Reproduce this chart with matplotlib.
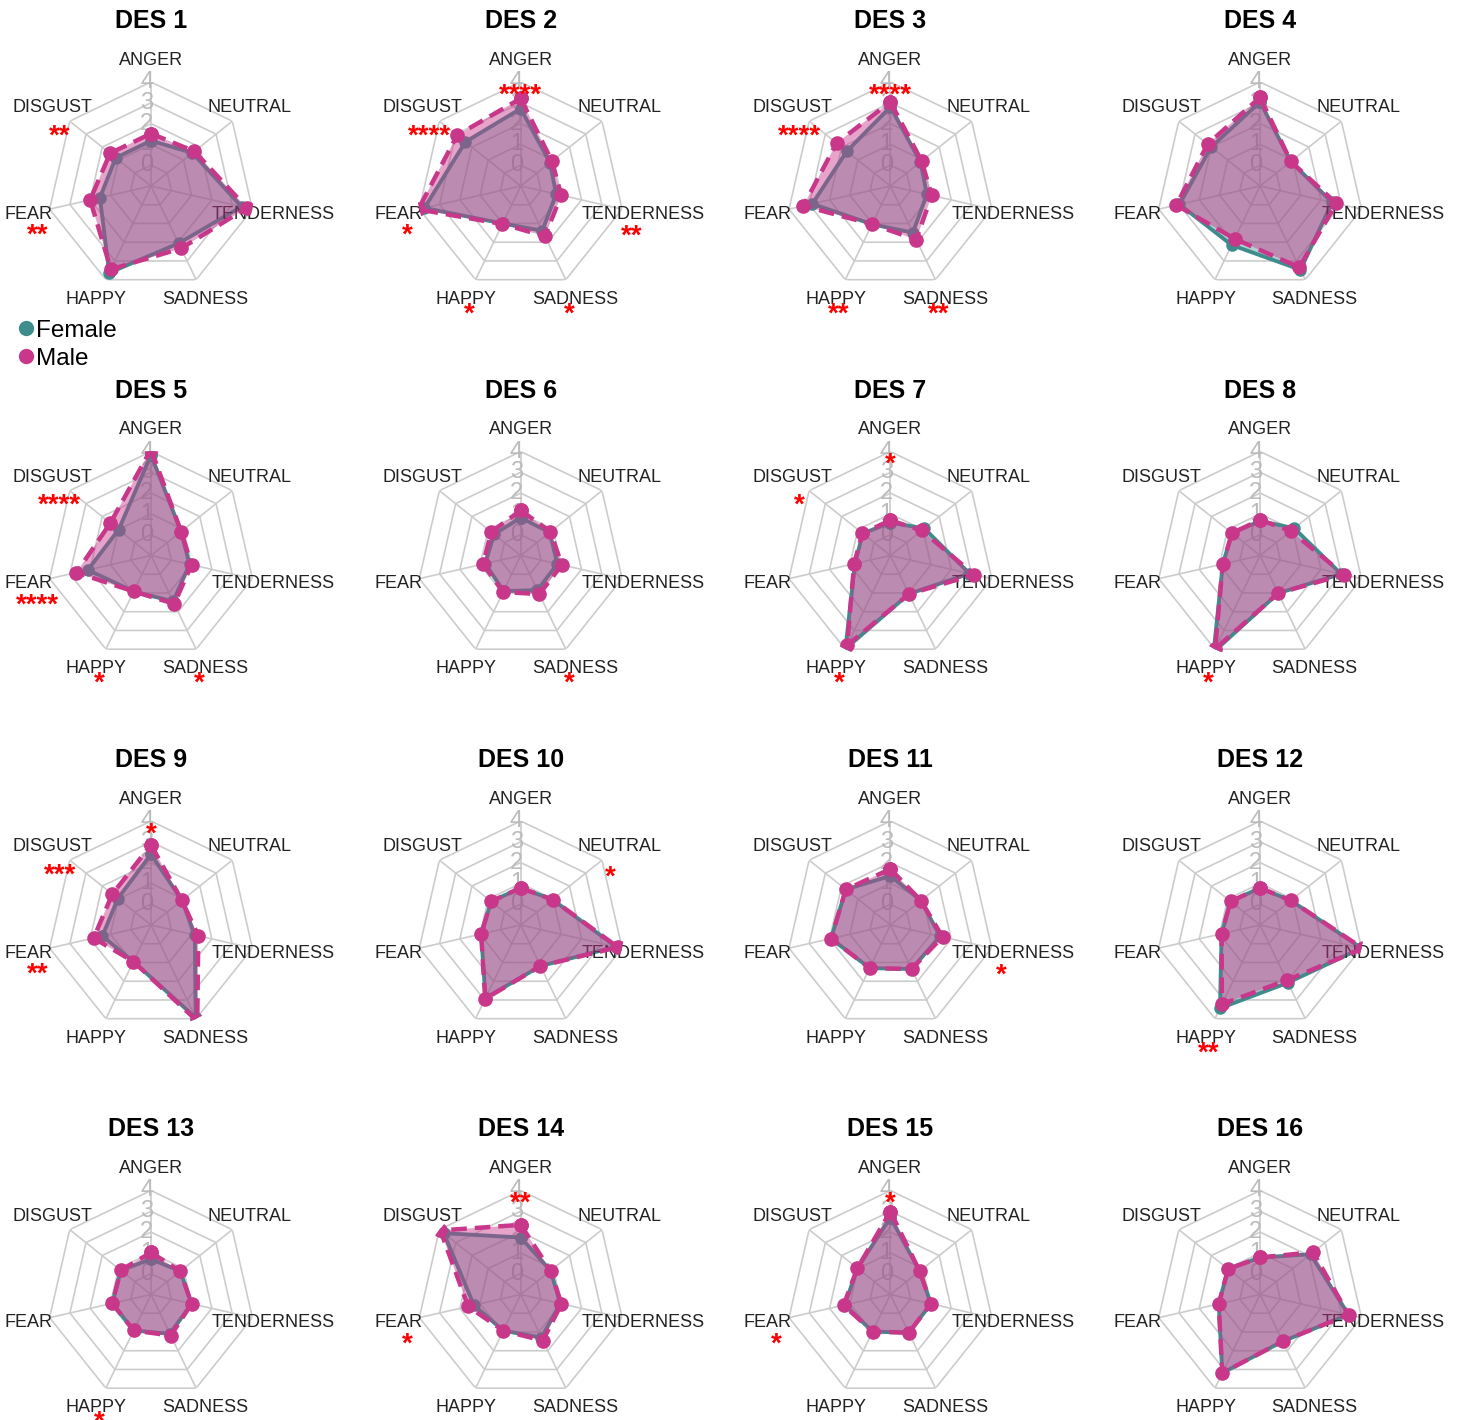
import numpy as np
import matplotlib.pyplot as plt
from matplotlib.lines import Line2D

plt.rcParams['font.family'] = ['Liberation Sans', 'DejaVu Sans']

emotions = ["ANGER", "NEUTRAL", "TENDERNESS", "SADNESS", "HAPPY", "FEAR", "DISGUST"]
titles = ["DES %d" % i for i in range(1, 17)]

# mean ratings, order as in emotions
female = [
    [1.18, 1.55, 3.47, 2.06, 3.63, 1.52, 1.17],   # DES 1
    [2.72, 0.80, 0.75, 1.39, 1.00, 3.75, 2.40],   # DES 2
    [2.80, 0.85, 0.80, 1.49, 1.04, 2.85, 1.68],   # DES 3
    [3.04, 0.89, 2.55, 3.47, 2.15, 2.98, 2.01],   # DES 4
    [3.83, 0.85, 0.90, 1.45, 0.92, 2.12, 0.99],   # DES 5
    [0.82, 0.78, 0.81, 0.85, 0.90, 0.75, 0.64],   # DES 6
    [0.58, 1.09, 2.90, 1.05, 3.98, 0.75, 0.70],   # DES 7
    [0.66, 1.10, 3.00, 1.01, 4.15, 0.84, 0.73],   # DES 8
    [2.40, 0.90, 1.16, 3.95, 0.95, 1.40, 1.04],   # DES 9
    [0.78, 0.96, 3.70, 1.19, 2.90, 0.95, 0.82],   # DES 10
    [1.36, 0.88, 1.45, 1.35, 1.30, 1.93, 1.74],   # DES 11
    [0.78, 0.89, 4.00, 2.08, 3.44, 0.90, 0.82],   # DES 12
    [0.70, 0.80, 1.00, 1.10, 0.92, 0.91, 0.86],   # DES 13
    [1.74, 0.84, 0.95, 1.30, 0.93, 1.31, 3.73],   # DES 14
    [2.70, 0.80, 1.00, 1.04, 0.98, 1.25, 1.03],   # DES 15
    [0.78, 2.10, 3.36, 1.50, 3.19, 1.04, 0.97],   # DES 16
]
male = [
    [1.52, 1.67, 3.73, 2.33, 3.45, 2.00, 1.52],   # DES 1
    [3.21, 0.92, 1.00, 1.68, 1.03, 4.05, 2.91],   # DES 2
    [3.04, 0.92, 1.04, 1.86, 1.04, 3.29, 2.31],   # DES 3
    [3.26, 0.89, 2.76, 3.34, 1.82, 3.13, 2.23],   # DES 4
    [4.10, 0.85, 1.00, 1.58, 0.92, 2.68, 1.50],   # DES 5
    [1.17, 0.83, 1.03, 1.06, 0.95, 0.86, 0.81],   # DES 6
    [0.69, 0.93, 3.13, 1.06, 3.79, 0.79, 0.72],   # DES 7
    [0.71, 0.89, 3.14, 1.01, 3.98, 0.84, 0.73],   # DES 8
    [2.85, 0.90, 1.33, 4.13, 0.95, 1.83, 1.38],   # DES 9
    [0.78, 0.96, 3.79, 1.19, 2.94, 0.95, 0.82],   # DES 10
    [1.69, 0.88, 1.57, 1.35, 1.30, 1.93, 1.74],   # DES 11
    [0.78, 0.89, 4.07, 1.95, 3.23, 0.90, 0.82],   # DES 12
    [1.02, 0.80, 1.00, 1.19, 0.92, 0.91, 0.86],   # DES 13
    [2.35, 0.84, 1.01, 1.46, 0.93, 1.59, 3.94],   # DES 14
    [2.99, 0.80, 1.00, 1.04, 0.98, 1.31, 1.03],   # DES 15
    [0.78, 2.26, 3.36, 1.50, 3.19, 1.04, 0.97],   # DES 16
]
# significance marks per panel
stars = [
    {"DISGUST": "**", "FEAR": "**"},
    {"ANGER": "****", "DISGUST": "****", "FEAR": "*", "TENDERNESS": "**", "HAPPY": "*", "SADNESS": "*"},
    {"ANGER": "****", "DISGUST": "****", "HAPPY": "**", "SADNESS": "**"},
    {},
    {"DISGUST": "****", "FEAR": "****", "HAPPY": "*", "SADNESS": "*"},
    {"SADNESS": "*"},
    {"ANGER": "*", "DISGUST": "*", "HAPPY": "*"},
    {"HAPPY": "*"},
    {"ANGER": "*", "DISGUST": "***", "FEAR": "**"},
    {"NEUTRAL": "*"},
    {"TENDERNESS": "*"},
    {"HAPPY": "**"},
    {"HAPPY": "*"},
    {"ANGER": "**", "FEAR": "*"},
    {"ANGER": "*", "FEAR": "*"},
    {},
]

teal = "#3f8c8c"
pink = "#c8378a"
grid_c = "#cccccc"

# star offsets from the label (pixels, y down)
star_off = {"ANGER": (0, 34), "NEUTRAL": (-9, 30), "TENDERNESS": (-12, 22), "SADNESS": (-6, 14),
            "HAPPY": (3, 14), "FEAR": (9, 21), "DISGUST": (7, 28)}

W, H = 1460, 1420
R = 104
fig = plt.figure(figsize=(W / 100, H / 100), dpi=100)

theta = np.arange(7) * 2 * np.pi / 7
tclosed = np.append(theta, theta[0])
r_lab = -1 + 5 * 1.21

for k in range(16):
    i, j = divmod(k, 4)
    cx = 151 + 369.7 * j
    cy = 186 + 369.5 * i
    ax = fig.add_axes([(cx - R) / W, 1 - (cy + R) / H, 2 * R / W, 2 * R / H], projection='polar')
    ax.set_theta_offset(np.pi / 2)
    ax.set_theta_direction(-1)
    ax.set_ylim(-1, 4)
    ax.set_xticks([])
    ax.set_yticks([])
    ax.grid(False)
    ax.spines['polar'].set_visible(False)
    ax.patch.set_visible(False)

    for lev in range(5):
        ax.plot(tclosed, [lev] * 8, color=grid_c, lw=1.2, zorder=1)
        ax.annotate(str(lev), xy=(0, lev), xytext=(-3, 0), textcoords='offset points',
                    ha='center', va='center', color='#bbbbbb', fontsize=17, zorder=1.5,
                    annotation_clip=False)
    for t in theta:
        ax.plot([t, t], [-1, 4], color=grid_c, lw=1.2, zorder=1)

    f = np.append(female[k], female[k][0])
    m = np.append(male[k], male[k][0])
    ax.fill(tclosed, f, color=teal, alpha=0.4, lw=0, zorder=2)
    ax.plot(tclosed, f, color=teal, lw=2.8, marker='o', ms=8, zorder=3)
    ax.fill(tclosed, m, color=pink, alpha=0.45, lw=0, zorder=4)
    ax.plot(tclosed, m, color=pink, lw=3.2, ls=(0, (3.5, 1.8)), marker='o', ms=9.5, zorder=5)

    for t, name in zip(theta, emotions):
        ax.text(t, r_lab, name, ha='center', va='center', fontsize=13, color='#222222')
        if name in stars[k]:
            dx, dy = star_off[name]
            ax.annotate(stars[k][name], xy=(t, r_lab), xytext=(dx * 0.72, -(dy + 8) * 0.72),
                        textcoords='offset points', ha='center', va='baseline',
                        color='red', fontsize=20, fontweight='bold', annotation_clip=False,
                        zorder=6)

    ax.text(0.5, 0.5 + 165 / (2 * R), titles[k], transform=ax.transAxes, ha='center', va='center',
            fontsize=18, fontweight='bold')

handles = [Line2D([], [], ls='none', marker='o', ms=10, color=teal),
           Line2D([], [], ls='none', marker='o', ms=10, color=pink)]
fig.legend(handles, ["Female", "Male"], loc='upper left', bbox_to_anchor=(-10 / W, 1 - 298 / H),
           frameon=False, fontsize=17.5, handletextpad=-0.2, labelspacing=0.25, handlelength=1.2)

fig.savefig("out.png", dpi=100)
